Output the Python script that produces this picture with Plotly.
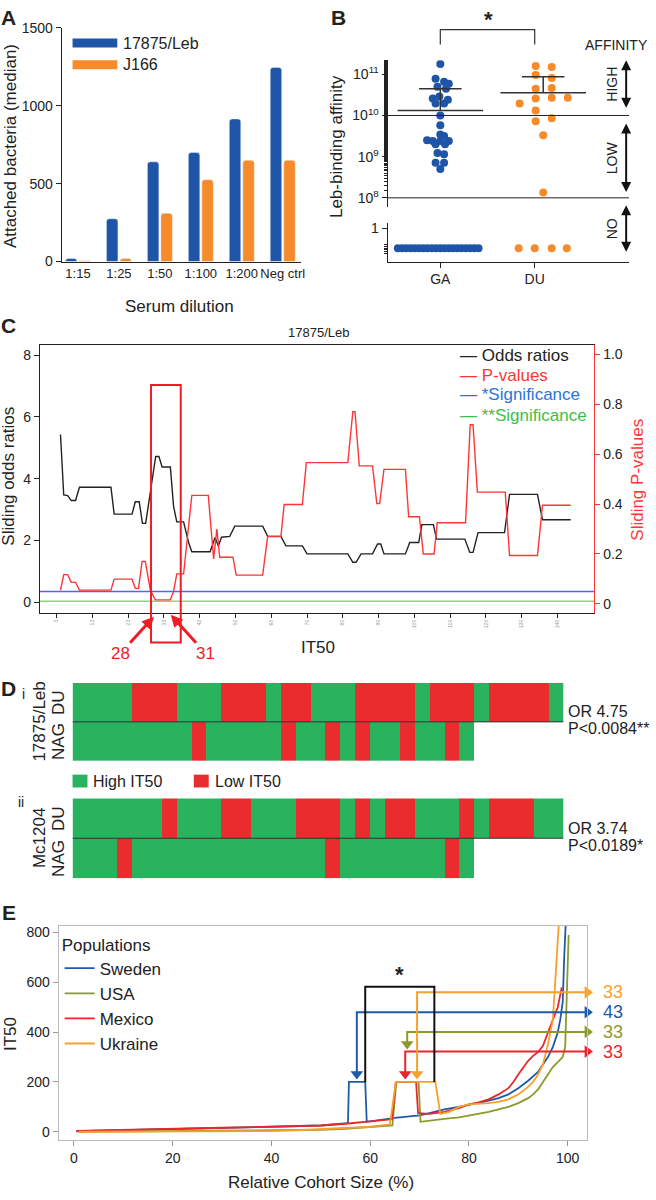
import plotly.graph_objects as go

W, H = 656, 1200
FONT = "Liberation Sans, Arial, Helvetica, sans-serif"

# ---------------- panel A: attached bacteria per serum dilution
dilutions = ["1:15", "1:25", "1:50", "1:100", "1:200", "Neg ctrl"]
attached_leb = [20, 275, 640, 700, 915, 1245]
attached_j166 = [5, 20, 310, 525, 650, 650]

# ---------------- panel B: Leb-binding affinity (log10), swarm offsets in category units
ga_log_aff = [11.25, 10.89, 10.82, 10.77, 10.70, 10.65, 10.46, 10.41, 10.38, 10.29, 10.29,
              10.00, 9.76, 9.54, 9.50, 9.40, 9.38, 9.38, 9.38, 9.30, 9.30,
              9.09, 9.06, 8.85, 8.85, 8.70]
ga_jitter = [0.0, -0.05, 0.04, 0.09, -0.03, 0.06, -0.01, -0.08, 0.08, -0.05, 0.04,
             0.0, 0.0, 0.0, 0.04, -0.14, -0.08, 0.0, 0.09, -0.05, 0.05,
             -0.03, 0.04, -0.05, 0.04, 0.0]
du_log_aff = [11.20, 11.18, 10.98, 10.91, 10.65, 10.67, 10.29, 10.41, 10.43, 10.43,
              10.12, 9.86, 9.93, 9.52, 8.13]
du_jitter = [0.01, 0.18, 0.01, 0.18, 0.01, 0.18, -0.16, 0.01, 0.18, 0.35,
             0.01, 0.01, 0.18, 0.09, 0.09]
ga_no_jitter = [-0.45, -0.405, -0.36, -0.315, -0.27, -0.225, -0.18, -0.135, -0.09, -0.045,
                0.0, 0.045, 0.09, 0.135, 0.18, 0.225, 0.27, 0.315, 0.36, 0.405]
du_no_jitter = [-0.17, 0.0, 0.18, 0.34]
no_binding_level = 0.4
ga_mean_log, ga_sem_log = 10.12, 10.65
du_mean_log, du_sem_log = 10.55, 10.94

# ---------------- panel C: sliding odds ratios / p-values (x = window index)
odds_x = [4.1, 5.0, 6.1, 7.1, 8.3, 9.4, 18.2, 19.1, 24.1, 25.0,
          26.1, 27.0, 27.9, 30.7, 31.6, 32.5, 34.8, 35.7, 36.6, 38.5,
          39.9, 40.8, 45.9, 47.3, 48.2, 49.1, 51.4, 52.8, 60.6, 62.0,
          65.7, 67.1, 71.7, 73.0, 84.4, 85.8, 86.7, 88.1, 91.3, 92.7,
          93.6, 94.5, 100.5, 101.7, 104.2, 105.1, 108.3, 109.2, 117.1, 118.5,
          119.4, 120.8, 128.2, 129.6, 137.4, 138.8, 146.7]
odds_y = [5.43, 3.47, 3.45, 3.29, 3.29, 3.72, 3.72, 2.85, 2.85, 3.25,
          3.25, 2.55, 2.55, 4.72, 4.72, 4.38, 4.38, 3.10, 2.60, 2.60,
          1.93, 1.63, 1.63, 2.09, 1.82, 2.10, 2.13, 2.46, 2.46, 2.13,
          2.13, 1.82, 1.82, 1.56, 1.56, 1.29, 1.29, 1.56, 1.56, 1.88,
          1.88, 1.56, 1.56, 1.93, 1.93, 2.51, 2.51, 2.04, 2.04, 1.61,
          1.61, 2.25, 2.25, 3.49, 3.49, 2.67, 2.67]
pval_x = [4.1, 5.0, 6.1, 7.1, 8.3, 9.4, 18.2, 19.1, 24.1, 25.0,
          25.9, 26.9, 27.8, 29.2, 30.6, 34.8, 35.7, 36.6, 38.5, 40.8,
          45.4, 46.9, 47.8, 48.6, 52.3, 53.2, 60.6, 62.0, 65.7, 66.6,
          71.7, 72.8, 84.4, 85.8, 86.4, 87.6, 91.3, 92.5, 93.3, 94.5,
          100.5, 101.4, 104.4, 105.5, 108.5, 109.4, 117.3, 118.6, 119.4, 120.6,
          128.4, 129.6, 137.4, 138.8, 146.7]
pval_y = [0.055, 0.117, 0.117, 0.086, 0.086, 0.055, 0.055, 0.099, 0.099, 0.062,
          0.062, 0.170, 0.170, 0.055, 0.016, 0.016, 0.050, 0.120, 0.120, 0.435,
          0.435, 0.180, 0.300, 0.187, 0.187, 0.115, 0.115, 0.270, 0.270, 0.398,
          0.398, 0.566, 0.566, 0.770, 0.770, 0.553, 0.553, 0.402, 0.402, 0.539,
          0.539, 0.349, 0.349, 0.200, 0.200, 0.325, 0.325, 0.718, 0.718, 0.448,
          0.448, 0.194, 0.194, 0.395, 0.395]
sig_1, sig_2 = 0.05, 0.01
c_tickvals = [3, 13, 23, 33, 43, 53, 63, 73, 83, 93, 103, 113, 123, 133, 143]
c_ticktext = ["3", "13", "23", "33", "42", "50", "60", "70", "80", "90",
              "100", "110", "120", "130", "140"]
window_lo, window_hi = 29.4, 37.7
arrow_28_x, arrow_31_x = 30.2, 34.9

# ---------------- panel D: High (H) / Low (L) IT50 per isolate
du_i = "HHHHLLLHHHLLLHLLHHHLLLLHLLLHLLLLH"
nag_i = "HHHHHHHHLHHHHHLHHLHLHHLHHLH"
du_ii = "HHHHHHLHHHLLHHHLLLHLHLLHHHLHLLLHH"
nag_ii = "HHHLHHHHHHHHHHHHHLHHHHHHHLH"

# ---------------- panel E: IT50 vs relative cohort size
pop_names = ["Sweden", "USA", "Mexico", "Ukraine"]
sweden_x = [0.5, 5, 10, 15, 20, 25, 30, 35, 40, 45, 50, 53, 55.5, 55.7, 59.0, 59.3, 62, 65, 68, 70,
            72, 75, 78, 80, 82, 84, 86, 88, 90, 92, 94, 95, 96, 97, 98, 98.5, 99, 99.3, 99.6]
sweden_y = [2, 4, 7, 9, 11, 13, 15, 17, 19, 21, 25, 30, 35, 200, 200, 40, 48, 56, 62, 66,
            75, 90, 100, 108, 115, 125, 135, 150, 175, 205, 240, 270, 300, 340, 400, 450, 520, 700, 830]
usa_x = [1, 10, 20, 30, 40, 50, 55, 60, 64.5, 65.3, 69.8, 70.2, 72, 75, 78, 80, 82, 84, 86, 88,
         90, 92, 93, 94, 95, 96, 97, 98, 99, 99.5, 99.8, 100.2]
usa_y = [0, 1, 2, 3, 4, 8, 12, 18, 25, 200, 200, 40, 45, 52, 58, 65, 72, 80, 90, 100,
         115, 135, 150, 170, 200, 230, 260, 280, 300, 340, 500, 790]
mexico_x = [0.5, 10, 20, 30, 40, 50, 55, 60, 63, 64.4, 65.2, 69.3, 69.7, 72, 75, 78, 80, 82, 84, 86,
            88, 89, 90, 91, 92, 93, 94, 95, 96, 97, 98, 98.8]
mexico_y = [3, 8, 12, 16, 20, 25, 32, 40, 45, 50, 200, 200, 75, 72, 80, 95, 110, 118, 130, 150,
            175, 200, 230, 260, 285, 305, 320, 345, 400, 450, 500, 580]
ukraine_x = [1, 10, 20, 30, 40, 45, 50, 55, 60, 64, 65.2, 73.2, 74.2, 76, 78, 80, 82, 84, 86, 88,
             90, 92, 93, 94, 95, 96, 97, 97.5, 98.2]
ukraine_y = [0, 0, 1, 2, 3, 6, 10, 14, 20, 30, 200, 200, 72, 80, 100, 110, 112, 115, 120, 130,
             150, 180, 200, 230, 270, 350, 450, 600, 830]
median_x = [57.3, 67.5, 67.1, 69.5]
arrow_tip = [210, 330, 210, 210]
arrow_level = [480, 401, 322, 560]
pop_counts = ["43", "33", "33", "33"]

BLUE = "#1f55a7"
ORANGE = "#f68b2b"
GREEN_D = "#2ab35f"
RED_D = "#ea2c2f"
C_RED = "#ff3535"
POP_COLORS = ["#1f5aa8", "#8b9a2b", "#e8262c", "#f8a02c"]


def px(x):
    return x / W


def py(y):
    return 1 - y / H


fig = go.Figure()

# ---- A
fig.add_trace(go.Bar(name="17875/Leb", x=dilutions, y=attached_leb, marker=dict(color=BLUE, cornerradius=3),
                     xaxis="x", yaxis="y", showlegend=False))
fig.add_trace(go.Bar(name="J166", x=dilutions, y=attached_j166, marker=dict(color=ORANGE, cornerradius=3),
                     xaxis="x", yaxis="y", showlegend=False))

# ---- B
GA_POS, DU_POS, DU_MID = 1, 2, 2.09
fig.add_trace(go.Scatter(x=[GA_POS + j for j in ga_jitter], y=[10 ** v for v in ga_log_aff],
                         mode="markers", marker=dict(color=BLUE, size=8),
                         xaxis="x2", yaxis="y2", showlegend=False))
fig.add_trace(go.Scatter(x=[DU_POS + j for j in du_jitter], y=[10 ** v for v in du_log_aff],
                         mode="markers", marker=dict(color=ORANGE, size=8),
                         xaxis="x2", yaxis="y2", showlegend=False))
fig.add_trace(go.Scatter(x=[GA_POS + j for j in ga_no_jitter], y=[no_binding_level] * len(ga_no_jitter),
                         mode="markers", marker=dict(color=BLUE, size=8),
                         xaxis="x2", yaxis="y3", showlegend=False))
fig.add_trace(go.Scatter(x=[DU_POS + j for j in du_no_jitter], y=[no_binding_level] * len(du_no_jitter),
                         mode="markers", marker=dict(color=ORANGE, size=8),
                         xaxis="x2", yaxis="y3", showlegend=False))
for center, m, s in [(GA_POS, ga_mean_log, ga_sem_log), (DU_MID, du_mean_log, du_sem_log)]:
    fig.add_trace(go.Scatter(
        x=[center - 0.453, center + 0.453, None, center - 0.225, center + 0.225, None, center, center],
        y=[10 ** m, 10 ** m, None, 10 ** s, 10 ** s, None, 10 ** m, 10 ** s],
        mode="lines", line=dict(color="#333", width=1.5), xaxis="x2", yaxis="y2", showlegend=False))
for thr in [1e10, 1e8]:
    fig.add_trace(go.Scatter(x=[0.44, 3.0], y=[thr, thr], mode="lines", line=dict(color="#222", width=1),
                             xaxis="x2", yaxis="y2", showlegend=False))

# ---- C
fig.add_trace(go.Scatter(x=[-1.7, 153.3], y=[sig_1, sig_1], mode="lines", line=dict(color="#5262ff", width=1.5),
                         xaxis="x4", yaxis="y5", showlegend=False))
fig.add_trace(go.Scatter(x=[-1.7, 153.3], y=[sig_2, sig_2], mode="lines", line=dict(color="#7be36a", width=1.5),
                         xaxis="x4", yaxis="y5", showlegend=False))
fig.add_trace(go.Scatter(x=pval_x, y=pval_y, mode="lines", line=dict(color=C_RED, width=1.4),
                         xaxis="x4", yaxis="y5", showlegend=False))
fig.add_trace(go.Scatter(x=odds_x, y=odds_y, mode="lines", line=dict(color="#222", width=1.4),
                         xaxis="x4", yaxis="y4", showlegend=False))

# ---- D
def hl_row(seq, n=33):
    return [0 if c == "H" else 1 for c in seq] + [None] * (n - len(seq))


for du, nag, xa, ya in [(du_i, nag_i, "x5", "y6"), (du_ii, nag_ii, "x6", "y7")]:
    fig.add_trace(go.Heatmap(z=[hl_row(nag), hl_row(du)], x=list(range(33)), y=[0, 1],
                             colorscale=[[0, GREEN_D], [1, RED_D]], zmin=0, zmax=1, showscale=False,
                             hoverinfo="skip", xaxis=xa, yaxis=ya))

# ---- E
for name, xs, ys, col in zip(pop_names, [sweden_x, usa_x, mexico_x, ukraine_x],
                             [sweden_y, usa_y, mexico_y, ukraine_y], POP_COLORS):
    fig.add_trace(go.Scatter(x=xs, y=ys, mode="lines", name=name, line=dict(color=col, width=1.8),
                             xaxis="x7", yaxis="y8"))

# median arrows: L-shaped connector with triangle heads
HEAD_X = 104.0
for mx, tip, lvl, col in zip(median_x, arrow_tip, arrow_level, POP_COLORS):
    fig.add_trace(go.Scatter(x=[mx, mx, HEAD_X], y=[tip + 22, lvl, lvl], mode="lines",
                             line=dict(color=col, width=2), xaxis="x7", yaxis="y8",
                             showlegend=False, hoverinfo="skip", cliponaxis=False))
    fig.add_trace(go.Scatter(x=[mx], y=[tip + 22], mode="markers",
                             marker=dict(symbol="triangle-down", size=11, color=col),
                             xaxis="x7", yaxis="y8", showlegend=False, hoverinfo="skip", cliponaxis=False))
    fig.add_trace(go.Scatter(x=[HEAD_X], y=[lvl], mode="markers",
                             marker=dict(symbol="triangle-right", size=11, color=col),
                             xaxis="x7", yaxis="y8", showlegend=False, hoverinfo="skip", cliponaxis=False))

AX = dict(showgrid=False, zeroline=False, showline=True, linecolor="#222", linewidth=1,
          ticks="outside", ticklen=5, tickcolor="#222", tickfont=dict(size=14, color="#222"))

layout = dict(
    width=W, height=H, margin=dict(l=0, r=0, t=0, b=0),
    paper_bgcolor="white", plot_bgcolor="white",
    font=dict(family=FONT, size=14, color="#222"),
    barmode="group", bargap=0.34, bargroupgap=0.15,
    xaxis=dict(AX, domain=[px(62), px(303)], anchor="y", range=[-0.4, 5.45], ticks="", tickangle=0,
               tickfont=dict(size=13, color="#222")),
    yaxis=dict(AX, domain=[py(257), py(20)], anchor="x", range=[0, 1500], tickvals=[0, 500, 1000, 1500]),
    xaxis2=dict(AX, domain=[px(390), px(633)], anchor="y3", range=[0.442, 3.0],
                tickvals=[GA_POS, DU_POS], ticktext=["GA", "DU"]),
    yaxis2=dict(AX, domain=[py(202), py(53)], anchor="x2", type="log", range=[7.77, 11.34],
                tickvals=[1e8, 1e9, 1e10, 1e11],
                ticktext=["10<sup>8</sup>", "10<sup>9</sup>", "10<sup>10</sup>", "10<sup>11</sup>"],
                minor=dict(ticks="outside", ticklen=3, tickcolor="#222")),
    yaxis3=dict(AX, domain=[py(257), py(218)], anchor="x2", range=[0, 1.15], tickvals=[1], ticktext=["1"],
                minor=dict(ticks="outside", ticklen=3, tickcolor="#222",
                           tickvals=[0.25, 0.3, 0.35, 0.4, 0.45, 0.5])),
    xaxis4=dict(AX, domain=[px(40), px(598)], anchor="y4", range=[-1.7, 153.3], mirror=True,
                tickvals=c_tickvals, ticktext=c_ticktext, tickangle=-90, ticklen=4,
                tickfont=dict(size=5, color="#999")),
    yaxis4=dict(AX, domain=[py(613), py(342)], anchor="x4", range=[-0.35, 8.32], tickvals=[0, 2, 4, 6, 8]),
    yaxis5=dict(AX, overlaying="y4", side="right", anchor="x4", range=[-0.036, 1.036],
                tickvals=[0, 0.2, 0.4, 0.6, 0.8, 1.0], ticktext=["0", "0.2", "0.4", "0.6", "0.8", "1.0"],
                linecolor=C_RED, tickcolor=C_RED),
    xaxis5=dict(domain=[px(73), px(567)], anchor="y6", range=[-0.5, 32.5], visible=False),
    yaxis6=dict(domain=[py(763), py(684)], anchor="x5", range=[-0.5, 1.5], visible=False),
    xaxis6=dict(domain=[px(73), px(567)], anchor="y7", range=[-0.5, 32.5], visible=False),
    yaxis7=dict(domain=[py(882), py(801)], anchor="x6", range=[-0.5, 1.5], visible=False),
    xaxis7=dict(AX, domain=[px(59), px(591)], anchor="y8", range=[-3.1, 104], mirror=True,
                linecolor="#bbb", tickcolor="#999", tickvals=[0, 20, 40, 60, 80, 100]),
    yaxis8=dict(AX, domain=[py(1147), py(930)], anchor="x7", range=[-32, 828], mirror=True,
                linecolor="#bbb", tickcolor="#999", tickvals=[0, 200, 400, 600, 800]),
    legend=dict(x=px(60), y=py(933), xanchor="left", yanchor="top", bgcolor="rgba(0,0,0,0)",
                title=dict(text="Populations", font=dict(size=17)), font=dict(size=17),
                itemwidth=30, tracegroupgap=0),
)
fig.update_layout(**layout)

ann = []
shapes = []


def text(x, y, s, size=17, color="#222", angle=0, anchor="center", bold=False):
    ann.append(dict(x=px(x), y=py(y), xref="paper", yref="paper", text=s,
                    showarrow=False, textangle=angle, xanchor=anchor, yanchor="middle",
                    font=dict(size=size, color=color, weight="bold" if bold else "normal")))


# panel letters
for lbl, x, y in [("A", 9, 10), ("B", 341, 10), ("C", 9, 322), ("D", 9, 690), ("E", 9, 917)]:
    text(x, y, lbl, size=21, bold=True)
text(24, 695, "i", size=14)
text(21, 805, "ii", size=14)

# A titles + legend
text(10, 140, "Attached bacteria (median)", angle=-90)
text(181, 303, "Serum dilution")
for (y0, y1, col, lbl) in [(31, 40, BLUE, "17875/Leb"), (53, 62, ORANGE, "J166")]:
    shapes.append(dict(type="rect", xref="paper", yref="paper", x0=px(73), x1=px(118), y0=py(y1), y1=py(y0),
                       fillcolor=col, line=dict(width=0)))
    text(122, (y0 + y1) / 2, lbl, size=16, anchor="left")

# B titles, bracket, affinity arrows
text(338, 140, "Leb-binding affinity", angle=-90)
shapes.append(dict(type="path", xref="x2", yref="paper",
                   path=f"M {GA_POS},{py(37)} L {GA_POS},{py(22)} L {DU_POS},{py(22)} L {DU_POS},{py(37)}",
                   line=dict(color="#333", width=1.2)))
text(491, 12, "*", size=22, bold=True)
text(620, 38, "AFFINITY", size=14)
for (y0, y1, lbl) in [(53, 102, "HIGH"), (117, 187, "LOW"), (200, 248, "NO")]:
    ann.append(dict(x=px(630), y=py(y0), xref="paper", yref="paper", ax=0, ay=y1 - y0, text="",
                    showarrow=True, arrowhead=2, startarrowhead=2, arrowside="end+start",
                    arrowsize=1, arrowwidth=2, arrowcolor="#111"))
    text(616, (y0 + y1) / 2, lbl, size=14, angle=-90)

# C titles, legend, window box, arrows
text(320, 329, "17875/Leb", size=13)
text(9, 474, "Sliding odds ratios", angle=-90)
text(642, 478, "Sliding P-values", color=C_RED, angle=-90)
text(320, 648, "IT50")
for (y, s, col) in [(352, "Odds ratios", "#222"), (372, "P-values", C_RED),
                    (392, "*Significance", "#2a74d8"), (413, "**Significance", "#3cc04a")]:
    ann.append(dict(x=px(461), y=py(y), xref="paper", yref="paper", showarrow=False, xanchor="left",
                    yanchor="middle", text=f"\u2014 {s}", font=dict(size=17, color=col)))
shapes.append(dict(type="rect", xref="x4", yref="paper", x0=window_lo, x1=window_hi,
                   y0=py(643), y1=py(382), line=dict(color="#ee1c24", width=2)))
for xv, tip_y, tx, ty, lbl in [(arrow_28_x, 617, 121, 654, "28"), (arrow_31_x, 615, 207, 654, "31")]:
    ann.append(dict(x=xv, y=py(tip_y), xref="x4", yref="paper", ax=tx - (40 + (xv + 1.7) / 155 * 558),
                    ay=ty - tip_y, text=lbl, showarrow=True, arrowhead=2, arrowsize=0.8, arrowwidth=3,
                    arrowcolor="#ee1c24", font=dict(size=17, color="#ee1c24")))

# D labels, separator, legend, stats
for ya, top, bottom, strain, or_txt, p_txt in [("y6", 684, 763, "17875/Leb", "OR 4.75", "P<0.0084**"),
                                                ("y7", 801, 882, "Mc1204", "OR 3.74", "P<0.0189*")]:
    xa = "x5" if ya == "y6" else "x6"
    shapes.append(dict(type="line", xref=xa, yref=ya, x0=-0.5, x1=32.5, y0=0.5, y1=0.5,
                       line=dict(color="#333", width=1)))
    mid = (top + bottom) / 2
    text(40, mid, strain, angle=-90)
    text(59, (top + mid) / 2, "DU", angle=-90)
    text(59, (mid + bottom) / 2, "NAG", angle=-90)
    text(569, mid - 10, or_txt, size=16, anchor="left")
    text(569, mid + 7, p_txt, size=16, anchor="left")
for x0, col, lbl in [(73, GREEN_D, "High IT50"), (195, RED_D, "Low IT50")]:
    shapes.append(dict(type="rect", xref="paper", yref="paper", x0=px(x0), x1=px(x0 + 15),
                       y0=py(790), y1=py(777), fillcolor=col, line=dict(width=0)))
    text(x0 + 19, 783.5, lbl, size=16, anchor="left")

# E titles, bracket, median counts
text(323, 1190, "Relative Cohort Size (%)")
text(10, 1040, "IT50", angle=-90)
shapes.append(dict(type="path", xref="x7", yref="y8", path="M 59,200 L 59,582 L 73,582 L 73,200",
                   line=dict(color="#111", width=2)))
ann.append(dict(x=66, y=632, xref="x7", yref="y8", text="*", showarrow=False,
                font=dict(size=22, weight="bold")))
for lvl, cnt, col in zip(arrow_level, pop_counts, POP_COLORS):
    ann.append(dict(x=px(605), y=lvl, xref="paper", yref="y8", text=cnt, showarrow=False, xanchor="left",
                    font=dict(size=18, color=col)))

fig.update_layout(annotations=ann, shapes=shapes)
fig.write_html("out.html", config={"displayModeBar": False},
               post_script="document.body.style.margin = '0';")
